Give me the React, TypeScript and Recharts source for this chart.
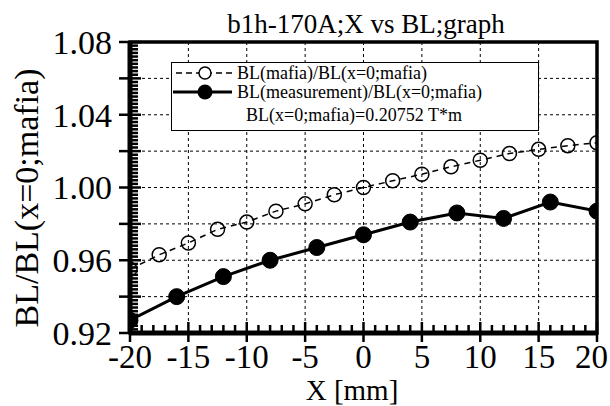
import React from 'react';
import {
  LineChart,
  Line,
  XAxis,
  YAxis,
  CartesianGrid,
  ReferenceArea,
  Legend
} from 'recharts';

// mafia calculation, every 2.5 mm
const mafiaX = [-20, -17.5, -15, -12.5, -10, -7.5, -5, -2.5, 0, 2.5, 5, 7.5, 10, 12.5, 15, 17.5, 20];
const mafiaBL = [0.955, 0.963, 0.9695, 0.977, 0.981, 0.987, 0.991, 0.996, 1.0, 1.0037, 1.0073, 1.0114, 1.015, 1.0187, 1.021, 1.023, 1.0246];

// measurement, every 4 mm
const measX = [-20, -16, -12, -8, -4, 0, 4, 8, 12, 16, 20];
const measBL = [0.927, 0.94, 0.951, 0.96, 0.967, 0.974, 0.981, 0.986, 0.983, 0.992, 0.987];

const xGrid = [-15, -10, -5, 0, 5, 10, 15];
const yGrid = [0.94, 0.96, 0.98, 1.0, 1.02, 1.04, 1.06];

const FONT = '"Liberation Serif", "Times New Roman", serif';

const mafiaData = mafiaX.map((x, i) => ({ x, bl: mafiaBL[i] }));
const measData = measX.map((x, i) => ({ x, bl: measBL[i] }));

// minor tick positions (1 mm on X, 0.002 on Y)
const xTicks: number[] = [];
for (let v = -20; v <= 20; v++) xTicks.push(v);
const yTicks: number[] = [];
for (let i = 0; i <= 80; i++) yTicks.push(Math.round((0.92 + i * 0.002) * 1000) / 1000);

const XTick = ({ x, y, payload }: any) => {
  const v = payload.value;
  const major = v % 5 === 0;
  // last label is pulled inside the picture like in the original
  const last = v === 20;
  return (
    <g>
      <line x1={x} x2={x} y1={y - (major ? 11 : 8)} y2={y + (major ? 9 : 0)} stroke="#000" strokeWidth={2.5} />
      {major && (
        <text
          x={last ? x + 11 : x}
          y={y + 35}
          textAnchor={last ? 'end' : 'middle'}
          fontSize={33}
          fontFamily={FONT}
          fill="#000"
        >
          {v}
        </text>
      )}
    </g>
  );
};

const YTick = ({ x, y, payload }: any) => {
  const k = Math.round(payload.value * 1000);
  const label = k % 40 === 0;
  const medium = k % 20 === 0;
  return (
    <g>
      <line x1={x - (medium ? 11 : 0)} x2={x + (medium ? 11 : 8)} y1={y} y2={y} stroke="#000" strokeWidth={2.5} />
      {label && (
        <text x={x - 18} y={y} dy="0.35em" textAnchor="end" fontSize={34} fontFamily={FONT} fill="#000">
          {payload.value.toFixed(2)}
        </text>
      )}
    </g>
  );
};

const LegendBox = () => (
  <div
    style={{
      width: 368,
      height: 69,
      boxSizing: 'border-box',
      border: '1.5px solid #000',
      background: '#fff'
    }}
  >
    <svg width={366} height={66} style={{ display: 'block', overflow: 'visible' }}>
      <g fontFamily={FONT} fontSize={18} fill="#000">
        <line x1={4} x2={60} y1={10} y2={10} stroke="#000" strokeWidth={1.5} strokeDasharray="6 4" />
        <circle cx={33} cy={10} r={6} fill="#fff" stroke="#000" strokeWidth={1.5} />
        <text x={65} y={16}>BL(mafia)/BL(x=0;mafia)</text>

        <line x1={1} x2={60} y1={29} y2={29} stroke="#000" strokeWidth={3} />
        <circle cx={33} cy={29} r={7.5} fill="#000" />
        <text x={65} y={35}>BL(measurement)/BL(x=0;mafia)</text>

        <text x={74} y={58}>BL(x=0;mafia)=0.20752 T*m</text>
      </g>
    </svg>
  </div>
);

export default function App() {
  return (
    <div style={{ position: 'absolute', left: 0, top: 0, width: 610, height: 406, background: '#fff' }}>
      <LineChart width={610} height={406} margin={{ top: 42, right: 13, bottom: 0, left: 0 }}>
        <CartesianGrid
          horizontalValues={yGrid}
          verticalValues={xGrid}
          stroke="#000"
          strokeWidth={1}
          strokeDasharray="3 3"
        />
        <XAxis
          type="number"
          dataKey="x"
          domain={[-20, 20]}
          ticks={xTicks}
          interval={0}
          tickSize={0}
          tickMargin={0}
          tick={<XTick />}
          axisLine={{ stroke: '#000', strokeWidth: 5 }}
          height={73}
          allowDataOverflow
        />
        <YAxis
          type="number"
          domain={[0.92, 1.08]}
          ticks={yTicks}
          interval={0}
          tickSize={0}
          tickMargin={0}
          tick={<YTick />}
          axisLine={{ stroke: '#000', strokeWidth: 5 }}
          width={130}
          allowDataOverflow
        />
        <ReferenceArea x1={-20} x2={20} y1={0.92} y2={1.08} fill="none" stroke="#000" strokeWidth={3.5} />
        <Line
          data={mafiaData}
          dataKey="bl"
          stroke="#000"
          strokeWidth={1.5}
          strokeDasharray="6 5"
          dot={{ r: 7, fill: 'none', stroke: '#000', strokeWidth: 1.5, strokeDasharray: 'none' }}
          isAnimationActive={false}
        />
        <Line
          data={measData}
          dataKey="bl"
          stroke="#000"
          strokeWidth={3}
          dot={{ r: 8, fill: '#000', stroke: '#000', strokeWidth: 1 }}
          isAnimationActive={false}
        />
        <Legend
          layout="horizontal"
          verticalAlign="middle"
          align="center"
          content={() => <LegendBox />}
          wrapperStyle={{ left: 171, top: 62, width: 368, height: 69 }}
        />
      </LineChart>
      <svg
        width={610}
        height={406}
        style={{ position: 'absolute', left: 0, top: 0, pointerEvents: 'none' }}
      >
        <g fontFamily={FONT} fill="#000">
          <text x={366} y={33} textAnchor="middle" fontSize={27}>b1h-170A;X vs BL;graph</text>
          <text x={352} y={400} textAnchor="middle" fontSize={29}>X [mm]</text>
          <text transform="translate(38, 198) rotate(-90)" textAnchor="middle" fontSize={34}>
            BL/BL(x=0;mafia)
          </text>
        </g>
      </svg>
    </div>
  );
}
